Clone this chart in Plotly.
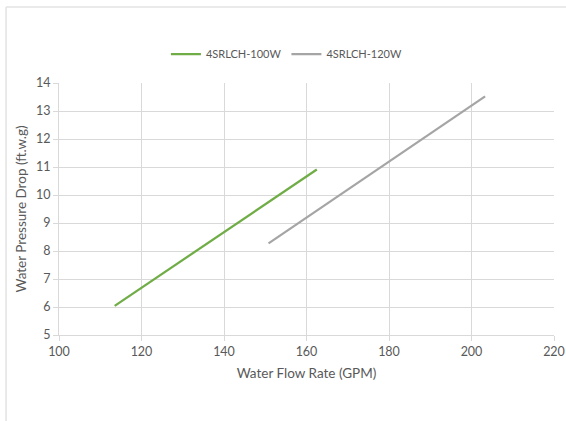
import plotly.graph_objects as go

# Pressure drop curves for the two models
flow_100w = [113.5, 162.5]
drop_100w = [6.04, 10.91]
flow_120w = [150.8, 203.3]
drop_120w = [8.27, 13.52]

series_names = ["4SRLCH-100W", "4SRLCH-120W"]
x_ticks = [100, 120, 140, 160, 180, 200, 220]
y_ticks = [5, 6, 7, 8, 9, 10, 11, 12, 13, 14]

FONT = "Lato"
TXT = "#595959"
GRID = "#d9d9d9"

fig = go.Figure()
fig.add_trace(go.Scatter(x=flow_100w, y=drop_100w, mode="lines", name=series_names[0],
                         line=dict(color="#70AD47", width=2.25)))
fig.add_trace(go.Scatter(x=flow_120w, y=drop_120w, mode="lines", name=series_names[1],
                         line=dict(color="#A5A5A5", width=2.25)))

fig.update_layout(
    width=566, height=421,
    margin=dict(l=59, r=11.5, t=83, b=86),
    paper_bgcolor="white", plot_bgcolor="white",
    font=dict(family=FONT, size=12, color=TXT),
    showlegend=True,
    legend=dict(orientation="h", x=0.216, xanchor="left", y=1.115, yanchor="middle",
                font=dict(family=FONT, size=11, color=TXT), itemwidth=30,
                traceorder="normal", bgcolor="rgba(0,0,0,0)"),
    xaxis=dict(range=[100, 220], tickvals=x_ticks, showgrid=True, gridcolor=GRID, gridwidth=1,
               zeroline=False, showline=True, linecolor=GRID, linewidth=1,
               ticks="outside", ticklen=5, tickcolor=GRID, automargin=False,
               tickfont=dict(family=FONT, size=12.5, color=TXT),
               title=dict(text="Water Flow Rate (GPM)", standoff=10,
                          font=dict(family=FONT, size=13.5, color=TXT))),
    yaxis=dict(range=[5, 14], tickvals=y_ticks, showgrid=True, gridcolor=GRID, gridwidth=1,
               zeroline=False, showline=True, linecolor=GRID, linewidth=1,
               ticks="outside", ticklen=5, tickcolor=GRID, automargin=False,
               tickfont=dict(family=FONT, size=12.5, color=TXT),
               title=dict(text="Water Pressure Drop (ft.w.g)", standoff=6,
                          font=dict(family=FONT, size=13.5, color=TXT))),
)

# Outer frame (top and left edges of the chart area)
fig.add_shape(type="line", xref="paper", yref="paper",
              x0=(6 - 59) / 495.5, x1=(570 - 59) / 495.5,
              y0=(421 - 86 - 7) / 252, y1=(421 - 86 - 7) / 252,
              line=dict(color="#e3e3e3", width=1.5))
fig.add_shape(type="line", xref="paper", yref="paper",
              x0=(6 - 59) / 495.5, x1=(6 - 59) / 495.5,
              y0=(421 - 86 - 7) / 252, y1=-(90) / 252,
              line=dict(color="#e3e3e3", width=1.5))

fig.write_html("out.html")
